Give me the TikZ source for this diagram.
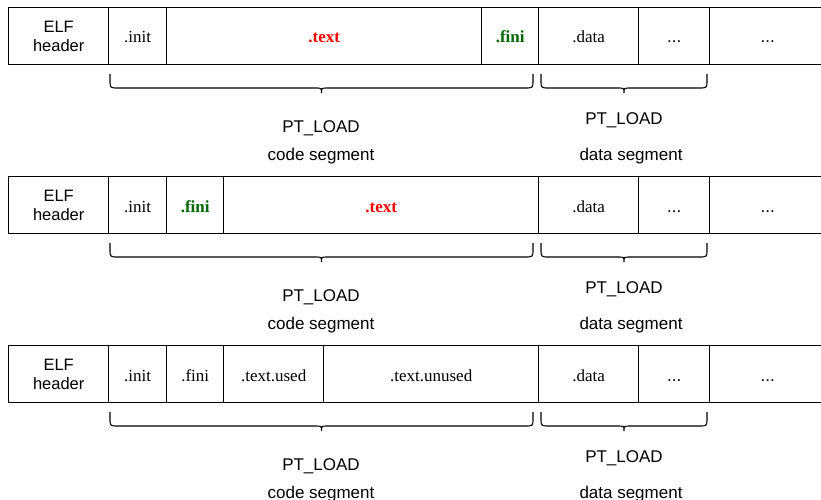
\documentclass[tikz,border=0pt]{standalone}
\usepackage{fontspec}
\setmainfont{Liberation Serif}
\setsansfont{Liberation Sans}
\definecolor{textred}{RGB}{255,0,0}
\definecolor{finigreen}{RGB}{0,102,0}

\tikzset{
  cell/.style={draw, line width=1.4pt, minimum height=57pt, inner sep=0pt,
               anchor=north west},
  sec/.style={cell, text height=15pt, text depth=1.4pt,
              font=\fontsize{17}{19}\selectfont},
  hdr/.style={cell, align=center, font=\sffamily\fontsize{16.5}{19.5}\selectfont},
  hot/.style={font=\bfseries\fontsize{17}{19}\selectfont, text=textred},
  fin/.style={font=\bfseries\fontsize{17}{19}\selectfont, text=finigreen},
  etc/.style={font=\sffamily\fontsize{17}{19}\selectfont},
  seglabel/.style={font=\sffamily\fontsize{17}{20}\selectfont, inner sep=0pt},
  brace/.style={line width=1.1pt},
  pics/curly/.style={code={
    \draw[brace] (0,0) -- (0,6) .. controls (0,14) .. (8,14)
      -- (#1/2-6,14) .. controls (#1/2,14) .. (#1/2,19)
      .. controls (#1/2,14) .. (#1/2+6,14)
      -- (#1-8,14) .. controls (#1,14) .. (#1,6) -- (#1,0);}}
}

\begin{document}
\begin{tikzpicture}[x=1pt,y=-1pt]
\useasboundingbox (0,0) rectangle (821,500);

% ---- layout 1: .init, .text, .fini ----
\begin{scope}
  \node[hdr, minimum width=100pt] (a-elf) at (8,7) {ELF\\header};
  \node[sec, minimum width=58pt]  (a-init) at (108,7) {.init};
  \node[sec, minimum width=315pt, hot] (a-text) at (166,7) {.text};
  \node[sec, minimum width=57pt, fin]  (a-fini) at (481,7) {.fini};
  \node[sec, minimum width=100pt] (a-data) at (538,7) {.data};
  \node[sec, minimum width=71pt, etc]  (a-more) at (638,7) {...};
  \node[sec, minimum width=116pt, etc] (a-rest) at (709,7) {...};
  \pic at (110,74) {curly=423};
  \pic at (541,74) {curly=166};
  \node[seglabel] (a-code1) at (321,128) {PT\_LOAD};
  \node[seglabel] (a-code2) at (321,156) {code segment};
  \node[seglabel] (a-data1) at (624,120) {PT\_LOAD};
  \node[seglabel] (a-data2) at (631,156) {data segment};
\end{scope}

% ---- layout 2: .init, .fini, .text ----
\begin{scope}[shift={(0,169)}]
  \node[hdr, minimum width=100pt] (b-elf) at (8,7) {ELF\\header};
  \node[sec, minimum width=58pt]  (b-init) at (108,7) {.init};
  \node[sec, minimum width=57pt, fin]  (b-fini) at (166,7) {.fini};
  \node[sec, minimum width=315pt, hot] (b-text) at (223,7) {.text};
  \node[sec, minimum width=100pt] (b-data) at (538,7) {.data};
  \node[sec, minimum width=71pt, etc]  (b-more) at (638,7) {...};
  \node[sec, minimum width=116pt, etc] (b-rest) at (709,7) {...};
  \pic at (110,74) {curly=423};
  \pic at (541,74) {curly=166};
  \node[seglabel] (b-code1) at (321,128) {PT\_LOAD};
  \node[seglabel] (b-code2) at (321,156) {code segment};
  \node[seglabel] (b-data1) at (624,120) {PT\_LOAD};
  \node[seglabel] (b-data2) at (631,156) {data segment};
\end{scope}

% ---- layout 3: .text split into used / unused ----
\begin{scope}[shift={(0,338)}]
  \node[hdr, minimum width=100pt] (c-elf) at (8,7) {ELF\\header};
  \node[sec, minimum width=58pt]  (c-init) at (108,7) {.init};
  \node[sec, minimum width=57pt]  (c-fini) at (166,7) {.fini};
  \node[sec, minimum width=100pt] (c-used) at (223,7) {.text.used};
  \node[sec, minimum width=215pt] (c-unused) at (323,7) {.text.unused};
  \node[sec, minimum width=100pt] (c-data) at (538,7) {.data};
  \node[sec, minimum width=71pt, etc]  (c-more) at (638,7) {...};
  \node[sec, minimum width=116pt, etc] (c-rest) at (709,7) {...};
  \pic at (110,74) {curly=423};
  \pic at (541,74) {curly=166};
  \node[seglabel] (c-code1) at (321,128) {PT\_LOAD};
  \node[seglabel] (c-code2) at (321,156) {code segment};
  \node[seglabel] (c-data1) at (624,120) {PT\_LOAD};
  \node[seglabel] (c-data2) at (631,156) {data segment};
\end{scope}
\end{tikzpicture}
\end{document}
